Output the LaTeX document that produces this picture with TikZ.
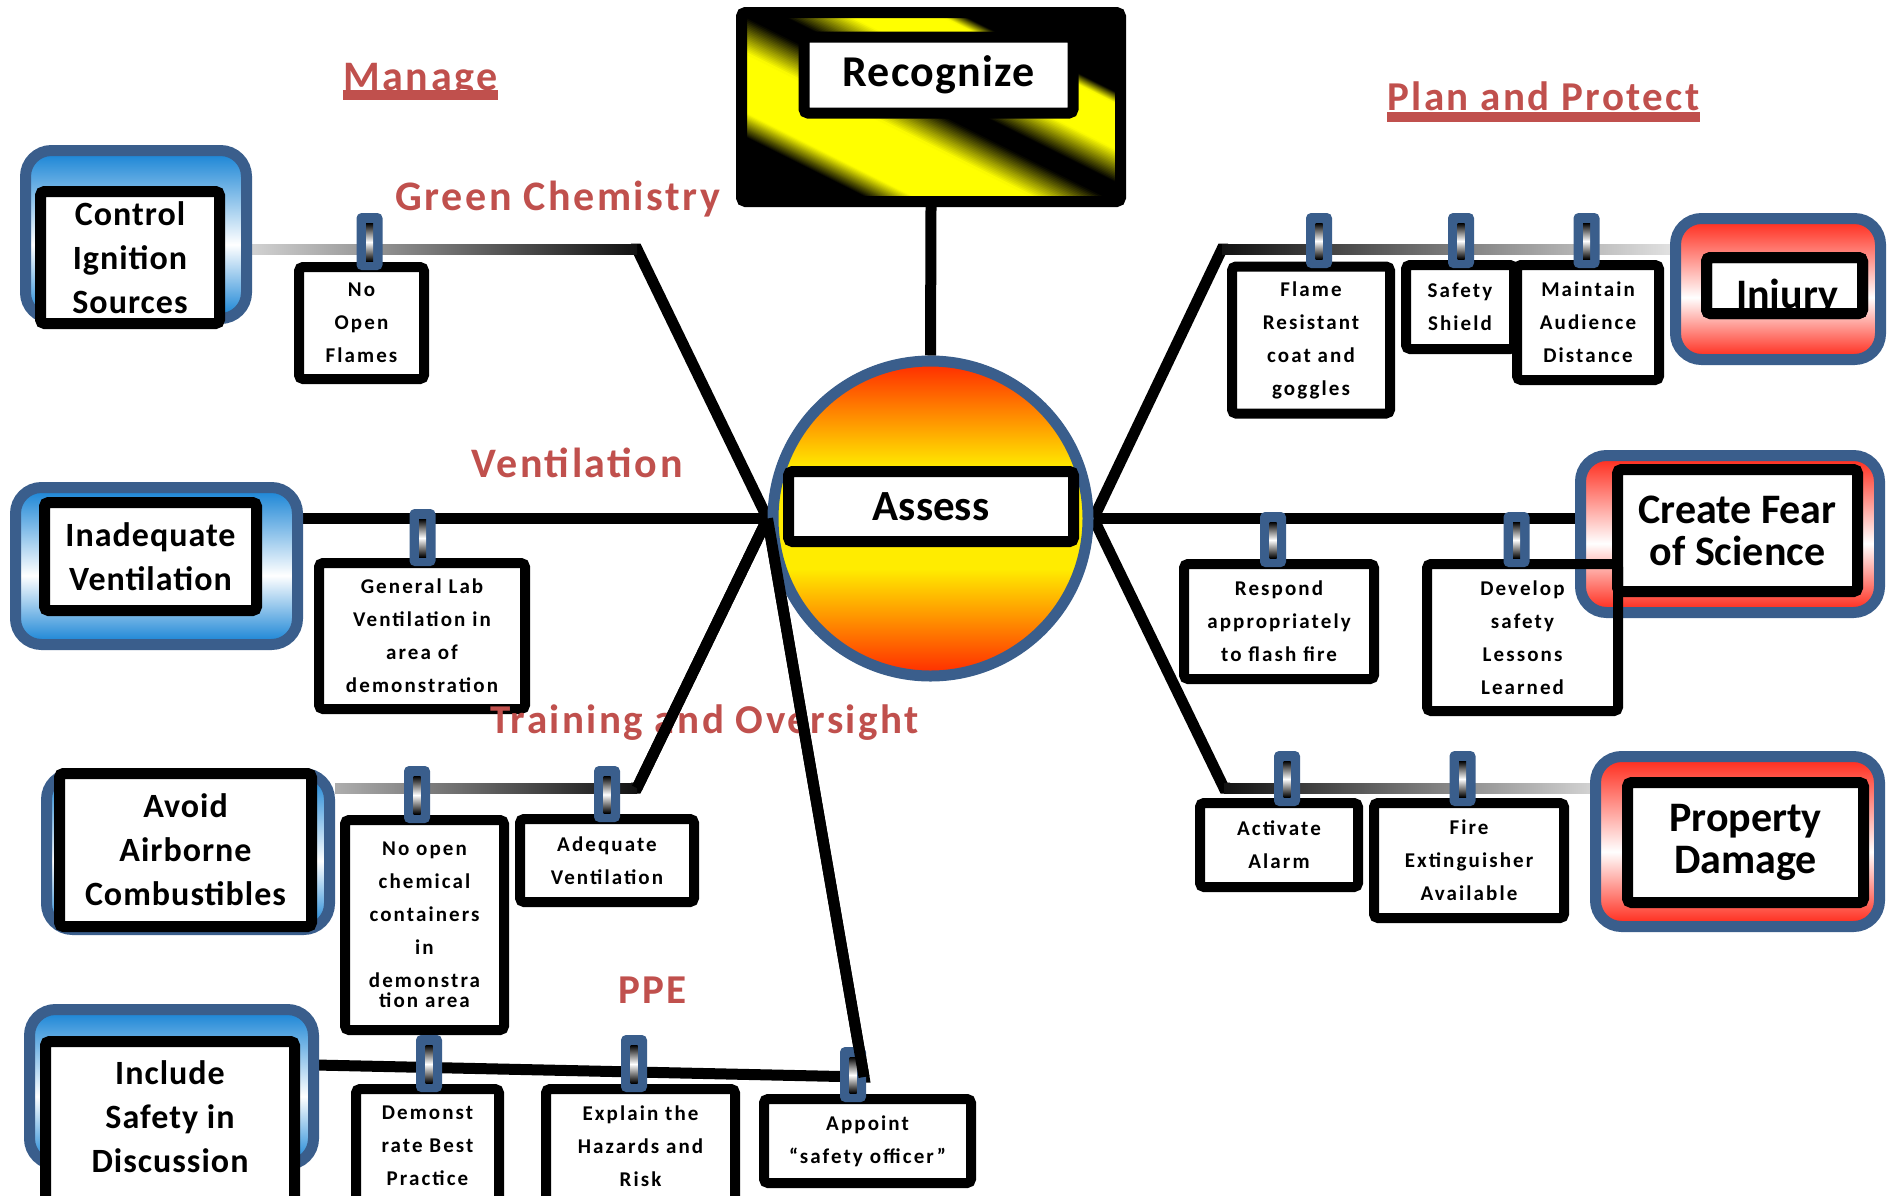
\documentclass[tikz,border=0pt]{standalone}
\usepackage{fontspec}
\setmainfont{Carlito}
\newfontfamily\cardfnt{Carlito}[LetterSpace=10]
\newfontfamily\boxfnt{Carlito}[LetterSpace=3]
\newfontfamily\headfnt{Carlito}[LetterSpace=6]
\usetikzlibrary{calc}

\definecolor{hazyellow}{RGB}{255,255,0}
\definecolor{ringblue}{RGB}{58,94,140}
\definecolor{glassblue}{RGB}{28,134,214}
\definecolor{glassred}{RGB}{255,45,30}
\definecolor{headred}{RGB}{192,80,77}
\definecolor{sunred}{RGB}{255,40,0}
\definecolor{sunyellow}{RGB}{255,236,0}

\pgfdeclareverticalshading{sunball}{100bp}{color(0bp)=(sunred); color(25bp)=(sunred); color(42bp)=(sunyellow); color(58bp)=(sunyellow); color(75bp)=(sunred); color(100bp)=(sunred)}
\pgfdeclareverticalshading{glassB}{100bp}{color(0bp)=(glassblue); color(26bp)=(glassblue); color(47bp)=(white); color(74bp)=(glassblue); color(100bp)=(glassblue)}
\pgfdeclareverticalshading{glassR}{100bp}{color(0bp)=(glassred); color(26bp)=(glassred); color(47bp)=(white); color(74bp)=(glassred); color(100bp)=(glassred)}

\pgfdeclarelayer{bg}
\pgfdeclarelayer{lines}
\pgfdeclarelayer{top}
\pgfsetlayers{bg,lines,main,top}

% graded band of the hazard stripes: v from #1 to #2, black share from #3 to #4
\newcommand\hzband[4]{%
  \foreach \k in {0,...,19}{%
    \pgfmathsetmacro\vA{#1+(#2-#1)*\k/20}%
    \pgfmathsetmacro\vB{#1+(#2-#1)*(\k+1)/20+0.8}%
    \pgfmathtruncatemacro\pc{#3+(#4-#3)*(\k+0.5)/20}%
    \fill[black!\pc!hazyellow] (-400,\vA) rectangle (400,\vB);
  }}

% blue clip holding a card: x centre, top, bottom
\newcommand\hanger[3]{%
  \fill[ringblue, rounded corners=5] ({#1-13},#2) rectangle ({#1+13},#3);
  \shade[top color=black, bottom color=black, middle color=white] ({#1-3.5},{#2+10}) rectangle ({#1+3.5},{#3-9});
}

\begin{document}
\begin{tikzpicture}[x=1pt,y=-1pt,
  conn/.style={line width=11, black, line join=miter},
  frame/.style={draw=black, line width=11, rounded corners=4, inner sep=0},
  whitebox/.style={frame, fill=white, align=center},
  bluebox/.style={draw=ringblue, line width=11, rounded corners=26, shading=glassB, inner sep=0},
  redbox/.style={draw=ringblue, line width=11, rounded corners=26, shading=glassR, inner sep=0},
  card/.style={draw=black, fill=white, line width=10, rounded corners=4, inner sep=0, align=center,
    font=\cardfnt\bfseries\fontsize{21}{33}\selectfont},
  bigtxt/.style={align=center, font=\boxfnt\bfseries\fontsize{34}{44}\selectfont},
  redtxt/.style={align=center, font=\bfseries\fontsize{42}{42}\selectfont},
  head/.style={text=headred, anchor=base, inner sep=0, font=\headfnt\bfseries\fontsize{#1}{#1}\selectfont},
]
\useasboundingbox (0,0) rectangle (1895,1195);
\begin{pgfonlayer}{bg}
  \fill[white] (0,0) rectangle (1895,1195);
\end{pgfonlayer}

% ---- Recognize sign with hazard stripes
\begin{scope}
  \clip (747,18) rectangle (1115,196);
  \fill[hazyellow] (747,18) rectangle (1115,196);
  \begin{scope}[shift={(931,107)}, rotate=-26.57]
    \fill[black] (-400,-300) rectangle (400,-95);
    \hzband{-96}{-86}{100}{0}
    \hzband{-45}{-15}{0}{100}
    \fill[black] (-400,-15.5) rectangle (400,3.5);
    \hzband{3}{35}{100}{0}
    \hzband{88}{110}{0}{100}
    \fill[black] (-400,109.5) rectangle (400,300);
  \end{scope}
\end{scope}
\node[frame, minimum width=379, minimum height=189] (sign) at (931,107) {};
\node[whitebox, minimum width=269, minimum height=76, font=\boxfnt\bfseries\fontsize{44}{44}\selectfont] (rec) at (938.5,75) {Recognize};

% ---- central ball
\node[circle, draw=ringblue, line width=11, minimum size=315, inner sep=0, shading=sunball] (circ) at (930.5,518.5) {};
\node[whitebox, minimum width=285, minimum height=70, font=\bfseries\fontsize{43}{43}\selectfont] (assess) at (931,506.5) {Assess};

% ---- left boxes
\node[bluebox, minimum width=221, minimum height=168] (cisb) at (136,234.5) {};
\node[whitebox, minimum width=179, minimum height=132, bigtxt] (cis) at (130,257.5) {Control\\Ignition\\Sources};
\node[bluebox, minimum width=282, minimum height=157] (ivb) at (156.5,566) {};
\node[whitebox, minimum width=212, minimum height=108, bigtxt] (iv) at (150.5,556.5) {Inadequate\\Ventilation};
\node[bluebox, minimum width=283, minimum height=156] (aacb) at (188,851.5) {};
\node[whitebox, minimum width=252, minimum height=153, bigtxt] (aac) at (185.5,850) {Avoid\\Airborne\\Combustibles};
\node[bluebox, minimum width=284, minimum height=155] (isdb) at (171.5,1087) {};
\node[whitebox, minimum width=249, minimum height=180] (isd) at (170,1131.5) {};
\node[bigtxt] (isdt) at (170,1117) {Include\\Safety in\\Discussion};

% ---- right boxes
\node[redbox, minimum width=205, minimum height=141] (injb) at (1778,289) {};
\node[frame, fill=white, minimum width=156, minimum height=56] (inj) at (1784.5,285.5) {};
\node[redtxt, anchor=base, inner sep=0] (injt) at (1787,308) {Injury};
\node[frame, minimum width=156, minimum height=56] (injf) at (inj.center) {};
\node[redbox, minimum width=299, minimum height=157] (cfsb) at (1730,534) {};
\node[whitebox, minimum width=240, minimum height=122, redtxt] (cfs) at (1737.5,530.5) {Create Fear\\of Science};
\node[redbox, minimum width=284, minimum height=170] (pdb) at (1737.5,841.5) {};
\node[whitebox, minimum width=236, minimum height=120, redtxt] (pd) at (1745.5,842.5) {Property\\Damage};

% ---- hanging cards
\node[card, minimum width=125, minimum height=112] (nof) at (361.5,323) {No\\Open\\Flames};
\node[card, minimum width=206, minimum height=146] (glv) at (422,636) {General Lab\\Ventilation in\\area of\\demonstration};
\node[card, minimum width=159, minimum height=210] (noc) at (424.5,925) {No open\\chemical\\containers\\in\\demonstra\\[-13pt]tion area};
\node[card, minimum width=174, minimum height=83] (adv) at (607,860.5) {Adequate\\Ventilation};
\node[card, minimum width=143, minimum height=114] (dbp) at (427.5,1146) {Demonst\\rate Best\\Practice};
\node[card, minimum width=189, minimum height=114] (eha) at (640.5,1146) {Explain the\\Hazards and\\Risk};
\node[card, minimum width=207, minimum height=84] (app) at (867.5,1141) {Appoint\\“safety officer”};
\node[card, minimum width=158, minimum height=147] (frc) at (1311,340) {Flame\\Resistant\\coat and\\goggles};
\node[card, minimum width=108, minimum height=84] (ssh) at (1460,307) {Safety\\Shield};
\node[card, minimum width=142, minimum height=115] (mad) at (1588,322.5) {Maintain\\Audience\\Distance};
\node[card, minimum width=190, minimum height=115] (raf) at (1279,621.5) {Respond\\appropriately\\to flash fire};
\node[card, fill=none, minimum width=191, minimum height=147] (dsl) at (1522.5,637.5) {Develop\\safety\\Lessons\\Learned};
\node[card, minimum width=158, minimum height=84] (aal) at (1279,845) {Activate\\Alarm};
\node[card, minimum width=190, minimum height=115] (fea) at (1469,860.5) {Fire\\Extinguisher\\Available};

% ---- clips
\hanger{369.5}{213}{270}
\hanger{422.5}{509}{566}
\hanger{417}{766}{823}
\hanger{607}{766}{822}
\hanger{429}{1035}{1092}
\hanger{634}{1035}{1092}
\hanger{853}{1047}{1102}
\hanger{1319}{213}{268}
\hanger{1461}{213}{268}
\hanger{1586.5}{213}{268}
\hanger{1273}{512}{567}
\hanger{1516.5}{512}{567}
\hanger{1287}{751}{806}
\hanger{1462.5}{751}{806}

% ---- connectors
\coordinate (gc) at (637,249);
\coordinate (tr) at (637,788);
\coordinate (pp) at (864,1077);
\coordinate (isdj) at (316,1065);
\coordinate (ij) at (1222,249);
\coordinate (pdj) at (1224,788);
\begin{pgfonlayer}{lines}
  \draw[conn] (sign.south) -- (circ.north);
  \draw[conn] (circ.west) -- (gc) -- ++(-6,0);
  \shade[left color=black!18, right color=black!93] ($(cisb.east |- gc)+(0,-5)$) rectangle ($(gc)+(0,5)$);
  \draw[conn] (circ.west) -- (ivb.east |- circ.west);
  \draw[conn] (circ.west) -- (tr) -- ++(-6,0);
  \shade[left color=black!32, right color=black!93] ($(aacb.east |- tr)+(0,-5)$) rectangle ($(tr)+(0,5)$);
  \draw[conn] (circ.west) -- (pp) -- (isdj);
  \draw[conn] (circ.east) -- (ij) -- ++(6,0);
  \shade[left color=black!93, right color=black!12] ($(ij)+(0,-5)$) rectangle ($(injb.west |- ij)+(0,5)$);
  \draw[conn] (circ.east) -- (cfsb.west |- circ.east);
  \draw[conn] (circ.east) -- (pdj) -- ++(6,0);
  \shade[left color=black!93, right color=black!18] ($(pdj)+(0,-5)$) rectangle ($(pdb.west |- pdj)+(0,5)$);
\end{pgfonlayer}

% ---- headings
\begin{pgfonlayer}{top}
  \node[head=42] (lmanage) at (420.5,90) {Manage};
  \fill[headred] (lmanage.base west) rectangle ($(lmanage.base east)+(0,10)$);
  \node[head=42] (lgc) at (558,210) {Green Chemistry};
  \node[head=42] (lvent) at (577,477) {Ventilation};
  \node[head=41] (ltr) at (704.5,733) {Training and Oversight};
  \node[head=41] (lppe) at (652.5,1003) {PPE};
  \node[head=41] (lplan) at (1543.5,110) {Plan and Protect};
  \fill[headred] ($(lplan.base west)+(0,2)$) rectangle ($(lplan.base east)+(0,12)$);
  \draw[conn] (circ.west) -- (tr);
  \draw[conn] (circ.west) -- (pp);
\end{pgfonlayer}
\end{tikzpicture}
\end{document}
